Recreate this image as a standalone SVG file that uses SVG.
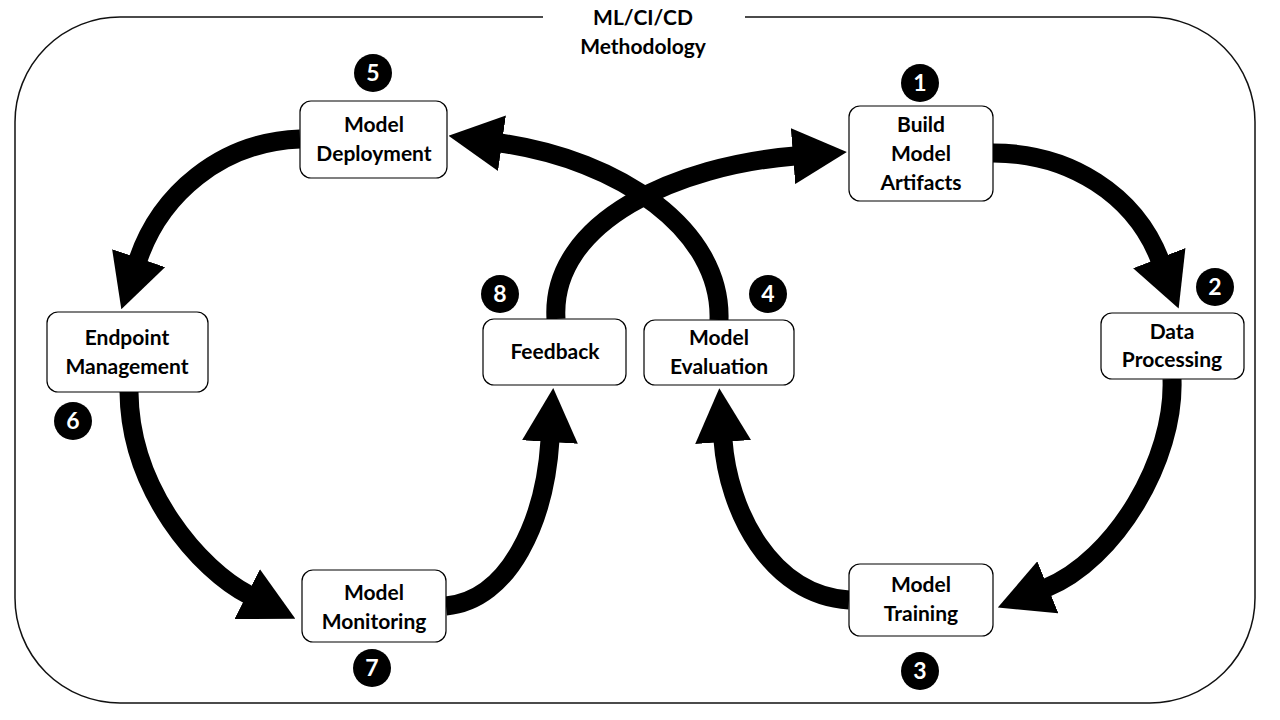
<svg xmlns="http://www.w3.org/2000/svg" width="1280" height="720" viewBox="0 0 1280 720">
<defs>
<style>
.frame{fill:none;stroke:#111;stroke-width:1.5}
.box{fill:#fff;stroke:#000;stroke-width:1.2}
.lbl{font-family:Lato,"Open Sans","Liberation Sans",sans-serif;font-weight:bold;font-size:21px;fill:#000;text-anchor:middle}
.num{font-family:Lato,"Open Sans","Liberation Sans",sans-serif;font-weight:bold;font-size:23px;fill:#fff;text-anchor:middle}
.badge{fill:#000}
.arr{fill:none;stroke:#000;stroke-width:19;marker-end:url(#head)}
</style>
<marker id="head" markerUnits="userSpaceOnUse" viewBox="0 0 54 56" markerWidth="54" markerHeight="56" refX="2" refY="28" orient="auto">
<path d="M0,0 L54,28 L0,56 Z" fill="#000"/>
</marker>
</defs>
<rect width="1280" height="720" fill="#fff"/>
<path class="frame" d="M543,17 H120 A105,105 0 0 0 15,122 V598 A105,105 0 0 0 120,703 H1150 A105,105 0 0 0 1255,598 V122 A105,105 0 0 0 1150,17 H745"/>
<g id="title">
<text class="lbl" x="643" y="25">ML/CI/CD</text>
<text class="lbl" x="643" y="54">Methodology</text>
</g>
<g id="connectors">
<path class="arr" d="M993,153 C1070,153 1135,195 1160,260"/>
<path class="arr" d="M1172,379 C1175,460 1115,560 1046,588"/>
<path class="arr" d="M849,600 C770,595 728,510 723,440"/>
<path class="arr" d="M719,320 C722,230 620,160 500,143"/>
<path class="arr" d="M556,319 C550,220 680,165 795,156"/>
<path class="arr" d="M300,139 C220,142 160,195 138,260"/>
<path class="arr" d="M129,392 C130,490 200,570 249,595"/>
<path class="arr" d="M446,606 C510,600 545,520 550,440"/>
</g>
<g id="n1">
<rect class="box" x="849" y="106" width="144" height="95" rx="11"/>
<text class="lbl" x="921" y="132">Build</text>
<text class="lbl" x="921" y="161">Model</text>
<text class="lbl" x="921" y="190">Artifacts</text>
<circle class="badge" cx="920" cy="83" r="19"/>
<text class="num" x="920" y="91">1</text>
</g>
<g id="n2">
<rect class="box" x="1101" y="313" width="143" height="66" rx="11"/>
<text class="lbl" x="1172" y="339">Data</text>
<text class="lbl" x="1172" y="367">Processing</text>
<circle class="badge" cx="1215" cy="287" r="19"/>
<text class="num" x="1215" y="295">2</text>
</g>
<g id="n3">
<rect class="box" x="849" y="564" width="144" height="72" rx="11"/>
<text class="lbl" x="921" y="592">Model</text>
<text class="lbl" x="921" y="621">Training</text>
<circle class="badge" cx="920" cy="671" r="19"/>
<text class="num" x="920" y="679">3</text>
</g>
<g id="n4">
<rect class="box" x="644" y="320" width="150" height="65" rx="11"/>
<text class="lbl" x="719" y="345">Model</text>
<text class="lbl" x="719" y="374">Evaluation</text>
<circle class="badge" cx="768" cy="294" r="19"/>
<text class="num" x="768" y="302">4</text>
</g>
<g id="n5">
<rect class="box" x="300" y="101" width="147" height="77" rx="11"/>
<text class="lbl" x="374" y="132">Model</text>
<text class="lbl" x="374" y="161">Deployment</text>
<circle class="badge" cx="373" cy="73" r="19"/>
<text class="num" x="373" y="81">5</text>
</g>
<g id="n6">
<rect class="box" x="47" y="312" width="161" height="80" rx="11"/>
<text class="lbl" x="127" y="345">Endpoint</text>
<text class="lbl" x="127" y="374">Management</text>
<circle class="badge" cx="73" cy="421" r="19"/>
<text class="num" x="73" y="429">6</text>
</g>
<g id="n7">
<rect class="box" x="302" y="570" width="144" height="72" rx="11"/>
<text class="lbl" x="374" y="600">Model</text>
<text class="lbl" x="374" y="629">Monitoring</text>
<circle class="badge" cx="372" cy="668" r="19"/>
<text class="num" x="372" y="676">7</text>
</g>
<g id="n8">
<rect class="box" x="483" y="319" width="143" height="66" rx="11"/>
<text class="lbl" x="555" y="359">Feedback</text>
<circle class="badge" cx="500" cy="294" r="19"/>
<text class="num" x="500" y="302">8</text>
</g>
</svg>
